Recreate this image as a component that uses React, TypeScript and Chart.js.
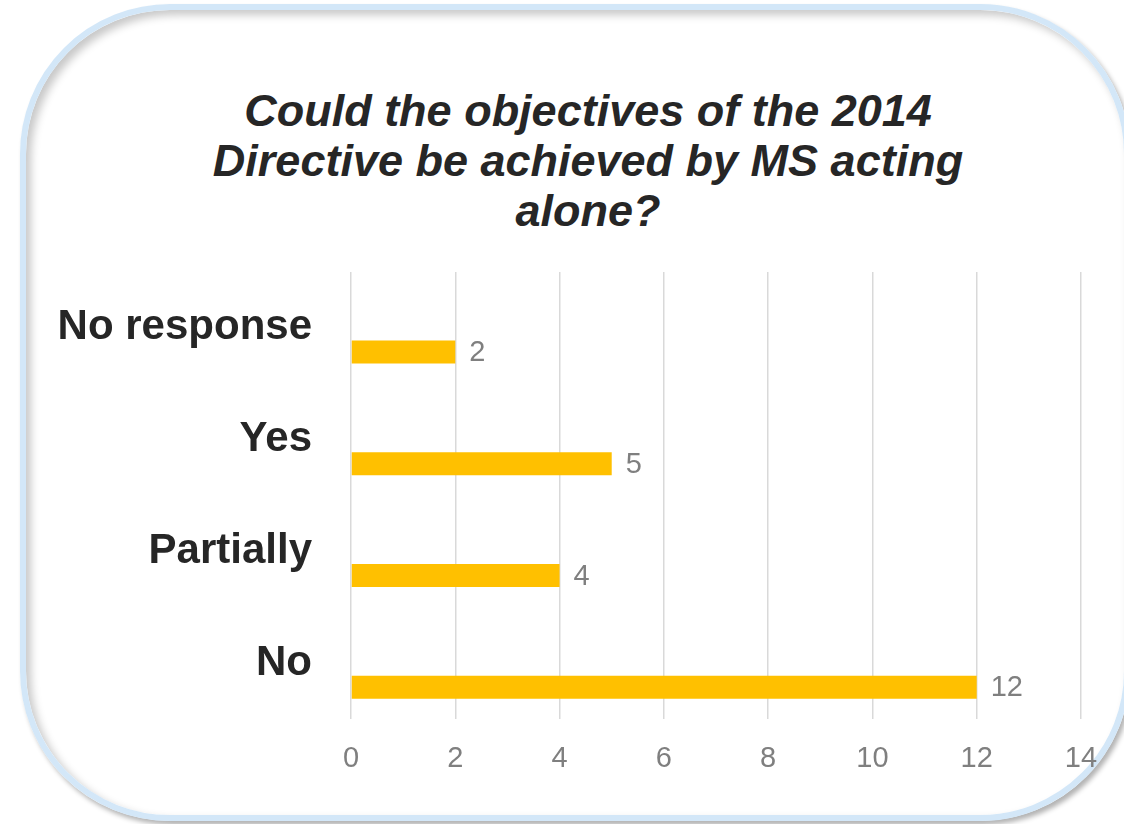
import { useEffect, useRef } from "react";
import { Chart, registerables } from "chart.js";
import type { Plugin } from "chart.js";

Chart.register(...registerables);

const titleLines = ["Could the objectives of the 2014", "Directive be achieved by MS acting", "alone?"];
const categories = ["No response", "Yes", "Partially", "No"];
const responses = [2, 5, 4, 12];
// empty first series, so the real bars sit in the lower half of each band (as in the Excel original)
const spacer = [null, null, null, null];
const xMin = 0;
const xMax = 14;
const xStep = 2;

const FONT = '"Liberation Sans", Arial, Helvetica, sans-serif';

const valueLabels: Plugin<"bar"> = {
	id: "valueLabels",
	afterDatasetsDraw(chart) {
		const { ctx } = chart;
		const meta = chart.getDatasetMeta(1);
		ctx.save();
		ctx.font = `29px ${FONT}`;
		ctx.fillStyle = "#7f7f7f";
		ctx.textAlign = "left";
		ctx.textBaseline = "middle";
		meta.data.forEach((bar, i) => {
			ctx.fillText(String(responses[i]), bar.x + 14, bar.y + 1);
		});
		ctx.restore();
	},
};

export default function App() {
	const canvasRef = useRef<HTMLCanvasElement | null>(null);

	useEffect(() => {
		if (!canvasRef.current) {
			return;
		}

		const chart = new Chart(canvasRef.current, {
			type: "bar",
			data: {
				labels: categories,
				datasets: [
					{
						label: "spacer",
						data: spacer,
						backgroundColor: "rgba(0,0,0,0)",
					},
					{
						label: "Responses",
						data: responses,
						backgroundColor: "#FFC000",
					},
				],
			},
			options: {
				indexAxis: "y",
				responsive: true,
				maintainAspectRatio: false,
				animation: false,
				categoryPercentage: 0.86,
				barPercentage: 0.48,
				layout: {
					padding: { left: 40, right: 43, top: 272, bottom: 26 },
				},
				plugins: {
					legend: { display: false },
					tooltip: { enabled: false },
					title: { display: false },
				},
				scales: {
					x: {
						type: "linear",
						min: xMin,
						max: xMax,
						ticks: {
							stepSize: xStep,
							color: "#7f7f7f",
							font: { family: FONT, size: 29 },
							padding: 22,
						},
						grid: { color: "#d9d9d9", lineWidth: 1.5, drawTicks: false },
						border: { display: false },
					},
					y: {
						ticks: {
							color: "#262626",
							font: { family: FONT, size: 42, weight: "bold" },
							padding: 39,
						},
						grid: { display: false, drawTicks: false },
						border: { display: false },
						afterFit: (scale) => {
							scale.width = 311;
						},
					},
				},
			},
			plugins: [valueLabels],
		});

		return () => {
			chart.destroy();
		};
	}, []);

	return (
		<div
			style={{
				position: "fixed",
				left: 0,
				top: 0,
				width: 1124,
				height: 824,
				background: "#ffffff",
				overflow: "hidden",
			}}
		>
			<div
				style={{
					position: "absolute",
					left: 20,
					top: 4,
					width: 1110,
					height: 817,
					boxSizing: "border-box",
					border: "6px solid #d3e7f8",
					borderRadius: 150,
					boxShadow: "inset 5px 5px 8px rgba(0,0,0,0.22), 3px 4px 5px rgba(0,0,0,0.3)",
				}}
			/>
			<div
				style={{
					position: "absolute",
					left: 0,
					top: 86,
					width: 1176,
					textAlign: "center",
					fontFamily: FONT,
					fontSize: 45,
					fontWeight: "bold",
					fontStyle: "italic",
					lineHeight: "50px",
					color: "#262626",
				}}
			>
				{titleLines.map((line) => (
					<div key={line}>{line}</div>
				))}
			</div>
			<div style={{ position: "absolute", left: 0, top: 0, width: 1124, height: 824 }}>
				<canvas ref={canvasRef} aria-label="Could the objectives of the 2014 Directive be achieved by MS acting alone?" />
			</div>
		</div>
	);
}
